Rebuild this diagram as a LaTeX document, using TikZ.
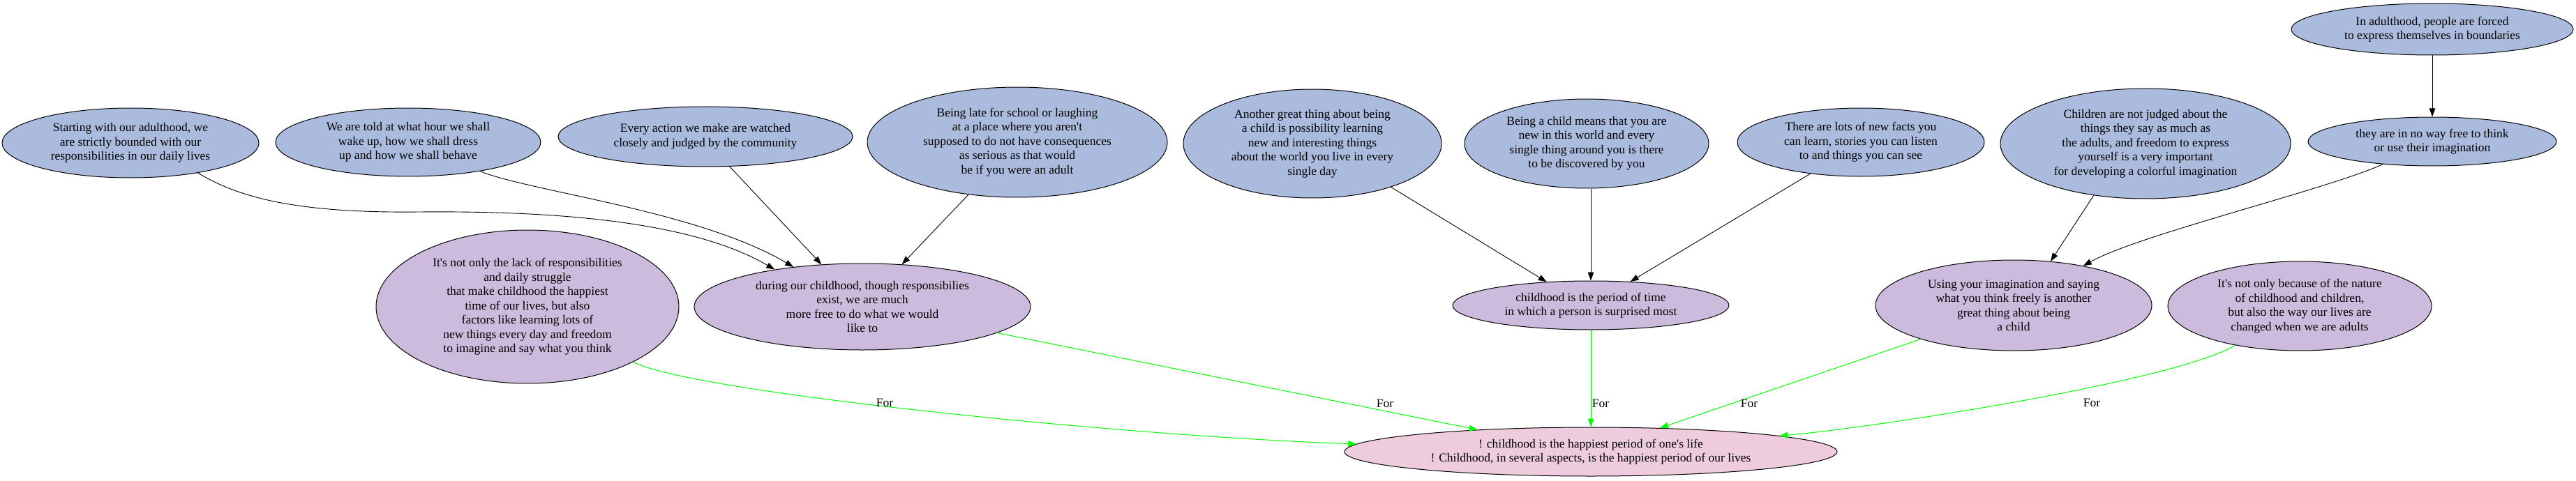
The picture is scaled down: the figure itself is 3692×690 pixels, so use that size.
\documentclass[tikz,border=0pt]{standalone}
\usepackage{fontspec}
\newfontfamily\gvfont{Liberation Serif}
\usetikzlibrary{shapes.geometric,arrows.meta}
\definecolor{blueF}{HTML}{AABBDD}
\definecolor{purpF}{HTML}{CCBBDD}
\definecolor{pinkF}{HTML}{EECCDD}
\definecolor{greenE}{HTML}{00FF00}
\newcommand{\gvfs}{\gvfont\fontsize{17.5}{20.5}\selectfont}
\tikzset{
  gvnode/.style={ellipse, draw=black, line width=1pt, inner sep=0pt, align=center, font=\gvfs},
  pronode/.style={gvnode, fill=blueF},
  midnode/.style={gvnode, fill=purpF},
  claimnode/.style={gvnode, fill=pinkF},
  supedge/.style={draw=black, line width=0.9pt, -{Triangle[length=12pt,width=8.5pt]}},
  foredge/.style={draw=greenE, line width=1pt, -{Triangle[length=12pt,width=8.5pt,fill=greenE]}},
  forlbl/.style={font=\gvfs, inner sep=0pt}
}
\begin{document}
\begin{tikzpicture}[x=1pt,y=-1pt]
\useasboundingbox (0,0) rectangle (3692,690);
% top row
\node[pronode, minimum width=368pt, minimum height=100pt] (A1) at (187,205) {Starting with our adulthood, we\\are strictly bounded with our\\responsibilities in our daily lives};
\node[pronode, minimum width=380pt, minimum height=98pt] (A2) at (585,204) {We are told at what hour we shall\\wake up, how we shall dress\\up and how we shall behave};
\node[pronode, minimum width=422pt, minimum height=86pt] (A3) at (1011,196) {Every action we make are watched\\closely and judged by the community};
\node[pronode, minimum width=430pt, minimum height=158pt] (A4) at (1458,204) {Being late for school or laughing\\at a place where you aren't\\supposed to do not have consequences\\as serious as that would\\be if you were an adult};
\node[pronode, minimum width=370pt, minimum height=156pt] (B1) at (1881,206) {Another great thing about being\\a child is possibility learning\\new and interesting things\\about the world you live in every\\single day};
\node[pronode, minimum width=350pt, minimum height=128pt] (B2) at (2274,206) {Being a child means that you are\\new in this world and every\\single thing around you is there\\to be discovered by you};
\node[pronode, minimum width=354pt, minimum height=98pt] (B3) at (2667,204) {There are lots of new facts you\\can learn, stories you can listen\\to and things you can see};
\node[pronode, minimum width=416pt, minimum height=158pt] (C1) at (3075,206) {Children are not judged about the\\things they say as much as\\the adults, and freedom to express\\yourself is a very important\\for developing a colorful imagination};
\node[pronode, minimum width=404pt, minimum height=74pt] (C2) at (3486,42) {In adulthood, people are forced\\to express themselves in boundaries};
\node[pronode, minimum width=356pt, minimum height=70pt] (C3) at (3486,203) {they are in no way free to think\\or use their imagination};
% middle row
\node[midnode, minimum width=434pt, minimum height=220pt] (D1) at (756,440) {It's not only the lack of responsibilities\\and daily struggle\\that make childhood the happiest\\time of our lives, but also\\factors like learning lots of\\new things every day and freedom\\to imagine and say what you think};
\node[midnode, minimum width=482pt, minimum height=124pt] (D2) at (1236,440) {during our childhood, though responsibilies\\exist, we are much\\more free to do what we would\\like to};
\node[midnode, minimum width=396pt, minimum height=70pt] (E1) at (2280,438) {childhood is the period of time\\in which a person is surprised most};
\node[midnode, minimum width=396pt, minimum height=130pt] (F1) at (2886,438) {Using your imagination and saying\\what you think freely is another\\great thing about being\\a child};
\node[midnode, minimum width=378pt, minimum height=128pt] (F2) at (3296,439) {It's not only because of the nature\\of childhood and children,\\but also the way our lives are\\changed when we are adults};
% main claim
\node[claimnode, minimum width=706pt, minimum height=70pt] (G) at (2280,648) {! childhood is the happiest period of one's life\\! Childhood, in several aspects, is the happiest period of our lives};
% support edges
\coordinate (a1m) at (600,304);
\draw[draw=black, line width=0.9pt] (A1.-24) .. controls (340,282) and (420,306) .. (a1m);
\draw[supedge] (a1m) .. controls (820,302) and (1000,322) .. (D2.157);
\draw[supedge] (A2.-22) .. controls (760,275) and (1000,302) .. (D2.150);
\draw[supedge] (A3.-51.5) -- (D2.134.5);
\draw[supedge] (A4.-133) -- (D2.47);
\draw[supedge] (B1.-29) -- (E1.152);
\draw[supedge] (B2.south -| E1.north) -- (E1.north);
\draw[supedge] (B3.-148.5) -- (E1.31);
\draw[supedge] (C1.225) -- (F1.50);
\draw[supedge] (C2.south) -- (C3.north);
\draw[supedge] (C3) .. controls (3338,271) and (3064,337) .. (F1);
% for edges
\draw[foredge] (D1) .. controls (991,563) and (1616,626) .. (G);
\draw[foredge] (D2.-11) -- (G.169.4);
\draw[foredge] (E1.south) -- (G.north);
\draw[foredge] (F1.-160.5) -- (G.19);
\draw[foredge] (F2) .. controls (3118,547) and (2682,614) .. (G);
% labels
\node[forlbl] (L1) at (1268,578) {For};
\node[forlbl] (L2) at (1985,579) {For};
\node[forlbl] (L3) at (2294,579) {For};
\node[forlbl] (L4) at (2507,579) {For};
\node[forlbl] (L5) at (2998,578) {For};
\end{tikzpicture}
\end{document}
